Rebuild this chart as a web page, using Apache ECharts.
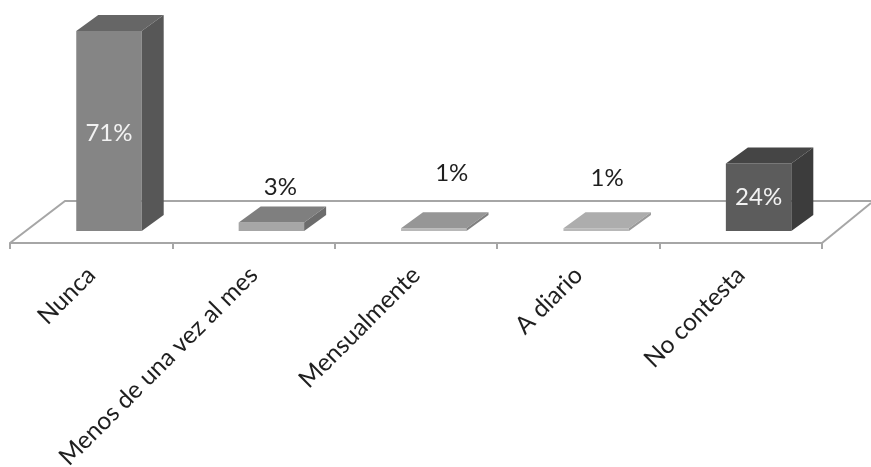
<!DOCTYPE html>
<html>
<head>
<meta charset="utf-8">
<style>html,body{margin:0;padding:0;background:#fff}#chart{width:871px;height:467px}</style>
<script src="https://cdn.jsdelivr.net/npm/echarts@6/dist/echarts.min.js"></script>
</head>
<body>
<div id="chart"></div>
<script>
const categories = ['Nunca', 'Menos de una vez al mes', 'Mensualmente', 'A diario', 'No contesta'];
const percentages = [71, 3, 1, 1, 24];

// Shades for each column's faces
const frontColors = ['#858585', '#a6a6a6', '#b8b8b8', '#b8b8b8', '#5c5c5c'];
const topColors = ['#666666', '#7f7f7f', '#969696', '#adadad', '#454545'];
const sideColors = ['#575757', '#6c6c6c', '#808080', '#9a9a9a', '#3c3c3c'];
const labelColors = ['#f2f2f2', '#1f1f1f', '#1f1f1f', '#1f1f1f', '#f2f2f2'];

// Label shift from the centre of the column's front face
const labelShifts = [[0, 2], [9, -40], [18, -56], [11, -51], [0, 0]];

const DEPTH_X = 22;
const DEPTH_Y = 16;
const FLOOR_DROP = 12;
const FLOOR_BACK_X = 55;
const FLOOR_BACK_Y = 30;
const LABEL_FONT = 'Lato, sans-serif';

function renderFloor(params) {
  const c = params.coordSys;
  const baseY = c.y + c.height;
  const stroke = { stroke: '#a6a6a6', lineWidth: 2, fill: null };
  return {
    type: 'group',
    children: [
      { type: 'polyline', silent: true, shape: { points: [
        [c.x, baseY + FLOOR_DROP],
        [c.x + FLOOR_BACK_X, baseY - FLOOR_BACK_Y],
        [871, baseY - FLOOR_BACK_Y]
      ] }, style: stroke },
      { type: 'line', silent: true, shape: {
        x1: c.x + c.width, y1: baseY + FLOOR_DROP,
        x2: 871, y2: baseY - FLOOR_DROP - 16
      }, style: stroke }
    ]
  };
}

function renderColumn(params, api) {
  const i = api.value(0);
  const top = api.coord([i, api.value(1)]);
  const base = api.coord([i, 0]);
  const band = api.size([1, 0])[0];
  const width = band * 0.403;
  const x0 = top[0] - band * 0.092;
  const x1 = x0 + width;
  const yT = top[1];
  const yB = base[1];
  const face = (points, fill) => ({ type: 'polygon', shape: { points }, style: { fill } });
  const shift = labelShifts[i];
  return {
    type: 'group',
    children: [
      face([[x0, yB], [x1, yB], [x1, yT], [x0, yT]], frontColors[i]),
      face([[x0, yT], [x1, yT], [x1 + DEPTH_X, yT - DEPTH_Y], [x0 + DEPTH_X, yT - DEPTH_Y]], topColors[i]),
      face([[x1, yB], [x1 + DEPTH_X, yB - DEPTH_Y], [x1 + DEPTH_X, yT - DEPTH_Y], [x1, yT]], sideColors[i]),
      {
        type: 'text',
        style: {
          text: api.value(1) + '%',
          x: (x0 + x1) / 2 + shift[0],
          y: (yT + yB) / 2 + shift[1],
          fill: labelColors[i],
          font: '24px ' + LABEL_FONT,
          align: 'center',
          verticalAlign: 'middle'
        }
      }
    ]
  };
}

const chart = echarts.init(document.getElementById('chart'), null, { renderer: 'canvas' });
chart.setOption({
  animation: false,
  backgroundColor: '#ffffff',
  grid: { left: 10, width: 812, top: 31, height: 200, outerBoundsMode: 'none' },
  xAxis: {
    type: 'category',
    data: categories,
    offset: FLOOR_DROP,
    axisLine: { onZero: false, lineStyle: { color: '#a6a6a6', width: 2 } },
    axisTick: { show: true, length: 6, lineStyle: { color: '#a6a6a6', width: 2 } },
    axisLabel: {
      interval: 0,
      rotate: 45,
      margin: 28,
      fontSize: 24.5,
      fontFamily: LABEL_FONT,
      color: '#1f1f1f'
    }
  },
  yAxis: { type: 'value', min: 0, max: 71, show: false },
  series: [
    { type: 'custom', z: 1, renderItem: renderFloor, data: [[0, 0]], encode: { x: 0, y: 1 }, silent: true },
    { type: 'custom', z: 2, renderItem: renderColumn, data: percentages.map((v, i) => [i, v]), encode: { x: 0, y: 1 } }
  ]
});
</script>
</body>
</html>
